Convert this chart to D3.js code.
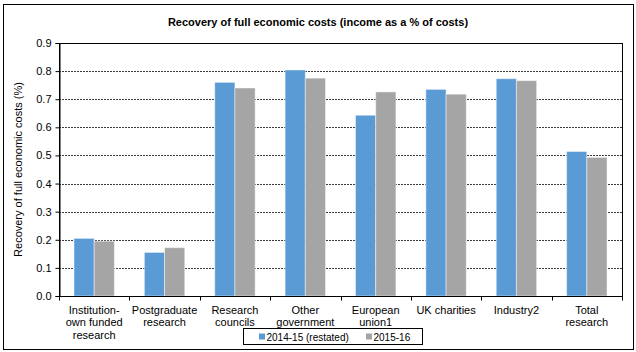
<!DOCTYPE html>
<html>
<head>
<meta charset="utf-8">
<script src="https://cdn.jsdelivr.net/npm/d3@7"></script>
<style>
  body { margin: 0; background: #fff; }
  text { font-family: "Liberation Sans", Arial, sans-serif; fill: #000; }
</style>
</head>
<body>
<div id="chart"></div>
<script>
var categories = [
    ["Institution-", "own funded", "research"],
    ["Postgraduate", "research"],
    ["Research", "councils"],
    ["Other", "government"],
    ["European", "union1"],
    ["UK charities"],
    ["Industry2"],
    ["Total", "research"]
];
var seriesNames = ["2014-15 (restated)", "2015-16"];
var values2014 = [0.205, 0.155, 0.76, 0.804, 0.643, 0.735, 0.773, 0.514];
var values2015 = [0.195, 0.172, 0.74, 0.775, 0.726, 0.718, 0.766, 0.493];
var yTicks = [0, 0.1, 0.2, 0.3, 0.4, 0.5, 0.6, 0.7, 0.8, 0.9];
var colors = ["#5b9bd5", "#a5a5a5"];

function init() {
    var W = 636, H = 352;
    var margin = {top: 43, right: 14, bottom: 56, left: 59};
    var w = W - margin.left - margin.right;
    var h = H - margin.top - margin.bottom;

    var svg = d3.select("#chart").append("svg")
        .attr("width", W)
        .attr("height", H);

    // outer chart border
    svg.append("rect")
        .attr("x", 3.5).attr("y", 4.5)
        .attr("width", 630).attr("height", 345)
        .attr("fill", "none")
        .attr("stroke", "#000");

    svg.append("text")
        .attr("x", 318).attr("y", 26)
        .attr("text-anchor", "middle")
        .style("font-size", "11px")
        .style("font-weight", "bold")
        .text("Recovery of full economic costs (income as a % of costs)");

    var g = svg.append("g")
        .attr("transform", "translate(" + margin.left + "," + margin.top + ")");

    var idx = d3.range(categories.length);
    var x0 = d3.scaleBand()
        .domain(idx)
        .range([0, w])
        .paddingInner(0.426)
        .paddingOuter(0.213);
    var x1 = d3.scaleBand()
        .domain([0, 1])
        .range([0, x0.bandwidth()]);
    var y = d3.scaleLinear()
        .domain([0, 0.9])
        .range([h, 0]);

    // gridlines
    g.selectAll("line.grid")
        .data(yTicks.slice(1))
        .enter().append("line")
        .attr("class", "grid")
        .attr("x1", 0).attr("x2", w)
        .attr("y1", function(d) { return Math.round(y(d)) + 0.5; })
        .attr("y2", function(d) { return Math.round(y(d)) + 0.5; })
        .attr("stroke", "#3c3c3c")
        .attr("stroke-dasharray", "2,1");

    // bars
    var data = idx.map(function(i) { return [values2014[i], values2015[i]]; });
    var groups = g.selectAll("g.cat")
        .data(data)
        .enter().append("g")
        .attr("class", "cat")
        .attr("transform", function(d, i) { return "translate(" + x0(i) + ",0)"; });
    groups.selectAll("rect")
        .data(function(d) { return d; })
        .enter().append("rect")
        .attr("x", function(d, j) { return x1(j); })
        .attr("y", function(d) { return y(d); })
        .attr("width", x1.bandwidth())
        .attr("height", function(d) { return h - y(d); })
        .attr("fill", function(d, j) { return colors[j]; })
        .attr("stroke", "#fff")
        .attr("stroke-opacity", 0.45)
        .attr("stroke-width", 1);

    // plot border (top/right)
    g.append("rect")
        .attr("x", 0.5).attr("y", 0.5)
        .attr("width", w).attr("height", h)
        .attr("fill", "none")
        .attr("stroke", "#000");

    // y axis
    var yAxis = g.append("g")
        .attr("transform", "translate(0.5,0)")
        .call(d3.axisLeft(y).tickValues(yTicks).tickFormat(d3.format(".1f")).tickSize(4).tickPadding(4));
    yAxis.select(".domain").attr("stroke", "#000");
    yAxis.selectAll("text").style("font-size", "11px").attr("fill", "#000")
        .style("font-family", "Liberation Sans, Arial, sans-serif");

    // x axis with ticks between categories
    var xAxis = g.append("g")
        .attr("transform", "translate(0," + (h + 0.5) + ")");
    xAxis.append("line")
        .attr("x1", 0).attr("x2", w + 0.5)
        .attr("stroke", "#000");
    xAxis.selectAll("line.tick")
        .data(d3.range(categories.length + 1))
        .enter().append("line")
        .attr("class", "tick")
        .attr("x1", function(i) { return Math.round(x0.step() * i) + 0.5; })
        .attr("x2", function(i) { return Math.round(x0.step() * i) + 0.5; })
        .attr("y1", 0).attr("y2", 4)
        .attr("stroke", "#000");
    var labels = xAxis.selectAll("text.lab")
        .data(categories)
        .enter().append("text")
        .attr("class", "lab")
        .attr("text-anchor", "middle")
        .attr("transform", function(d, i) { return "translate(" + (x0(i) + x0.bandwidth() / 2) + ",17)"; })
        .style("font-size", "11px");
    labels.selectAll("tspan")
        .data(function(d) { return d; })
        .enter().append("tspan")
        .attr("x", 0)
        .attr("y", function(d, k) { return k * 12.5; })
        .text(function(d) { return d; });

    // y axis title
    svg.append("text")
        .attr("transform", "translate(22," + (margin.top + h / 2) + ") rotate(-90)")
        .attr("text-anchor", "middle")
        .style("font-size", "11px")
        .text("Recovery of full economic costs (%)");

    // legend
    var leg = svg.append("g").attr("transform", "translate(243.5,328.5)");
    leg.append("rect")
        .attr("width", 179).attr("height", 16)
        .attr("fill", "#fff")
        .attr("stroke", "#000");
    var lx = [15.5, 122.5];
    seriesNames.forEach(function(name, j) {
        leg.append("rect")
            .attr("x", lx[j]).attr("y", 5)
            .attr("width", 6).attr("height", 6)
            .attr("fill", colors[j]);
        leg.append("text")
            .attr("x", lx[j] + 7.5).attr("y", 12)
            .style("font-size", "10px")
            .text(name);
    });
}

window.onload = init;
</script>
</body>
</html>
